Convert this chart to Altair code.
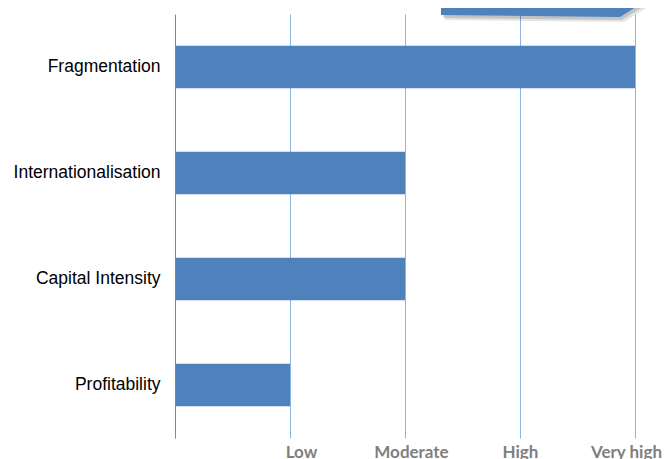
import altair as alt
import pandas as pd

categories = ["Fragmentation", "Internationalisation", "Capital Intensity", "Profitability"]
values = [4, 2, 2, 1]
tick_values = [1, 2, 3, 4]
tick_labels = ["Low", "Moderate", "High", "Very high"]
tick_label_shift = [11, 6, 0, -9]

# decorative callout (partly cut off at the top right of the picture)
callout_x = [2.313, 3.87, 4.187]
callout_bottom = [1, 3, -20]
callout_top = [-20, -20, -20]

df = pd.DataFrame({"category": categories, "value": values})
label_expr = " : ".join(
    [f"datum.value == {v} ? '{l}'" for v, l in zip(tick_values, tick_labels)]
) + " : ''"
label_offset = {
    "condition": [
        {"test": f"datum.value == {v}", "value": s}
        for v, s in zip(tick_values, tick_label_shift)
    ],
    "value": 0,
}

BLUE = "#4F81BD"

x_enc = alt.X(
    "value:Q",
    scale=alt.Scale(domain=[0, 4], nice=False),
    axis=alt.Axis(
        title=None,
        values=tick_values,
        labelExpr=label_expr,
        grid=True,
        gridColor="#8EB4E3",
        gridWidth=1,
        domain=False,
        ticks=False,
        labelPadding=6,
        labelFont="Lato",
        labelFontWeight="bold",
        labelFontSize=17,
        labelColor="#7F7F7F",
        labelFlush=False,
        labelOffset=label_offset,
        zindex=0,
    ),
)

bars = alt.Chart(df).mark_bar(color=BLUE).encode(
    x=x_enc,
    y=alt.Y(
        "category:N",
        sort=categories,
        scale=alt.Scale(paddingInner=0.6, paddingOuter=0.3),
        axis=alt.Axis(
            title=None,
            domain=True,
            domainColor="#868686",
            domainWidth=1,
            ticks=False,
            labelPadding=15,
            labelFont="Liberation Sans",
            labelFontSize=17.5,
            labelColor="#000000",
            zindex=1,
        ),
    ),
)

cdf = pd.DataFrame({"x": callout_x, "b": callout_bottom, "t": callout_top})

def callout_layer(dx, dy, color, opacity):
    d = cdf.copy()
    d["x"] = d["x"] + dx / 115.0
    d["b"] = d["b"] + dy
    d["t"] = d["t"] + dy
    return alt.Chart(d).mark_area(color=color, opacity=opacity, clip=False).encode(
        x=alt.X("x:Q", scale=alt.Scale(domain=[0, 4], nice=False)),
        y=alt.Y("b:Q", scale=alt.Scale(domain=[424, 0], nice=False, zero=False), axis=None),
        y2="t:Q",
    )

callout = alt.layer(
    callout_layer(4, 5, "#000000", 0.10),
    callout_layer(2, 3, "#000000", 0.15),
    callout_layer(0, 0, BLUE, 1.0),
)

chart = alt.layer(bars, callout).resolve_scale(y="independent").properties(
    width=460,
    height=424,
    autosize=alt.AutoSizeParams(type="none"),
    padding={"left": 167, "top": 6, "right": 27, "bottom": 21},
).configure_view(stroke=None)

chart.save("out.html", embed_options={"renderer": "svg", "actions": False})
